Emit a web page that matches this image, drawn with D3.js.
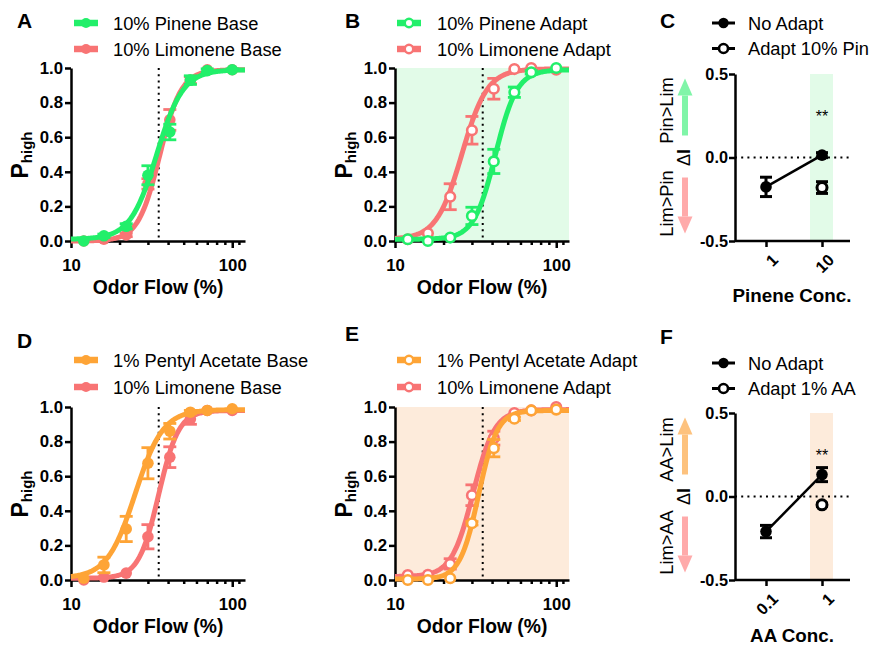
<!DOCTYPE html>
<html>
<head>
<meta charset="utf-8">
<script src="https://cdn.jsdelivr.net/npm/d3@7"></script>
<style>
    body { margin: 0; background: #fff; }
    svg { font-family: Arial, "Liberation Sans", sans-serif; }
</style>
</head>
<body>
<svg id="fig" width="869" height="645"></svg>
<script>
// odor flow steps (%) shared by all psychometric panels
const flow = [12, 16, 22, 30, 41, 55, 70, 100];

// A: baseline
const pinBase = [0.0, 0.03, 0.085, 0.38, 0.63, 0.93, 0.985, 0.99];
const pinBaseErr = [0, 0.01, 0.015, 0.055, 0.045, 0.025, 0.01, 0.005];
const limBaseA = [0.0, 0.01, 0.035, 0.33, 0.70, 0.93, 0.99, 0.99];
const limBaseAErr = [0, 0, 0.01, 0.03, 0.06, 0.02, 0, 0];

// B: after pinene adaptation
const pinAdapt = [0.01, 0.0, 0.02, 0.145, 0.46, 0.86, 0.975, 1.0];
const pinAdaptErr = [0, 0, 0, 0.05, 0.07, 0.03, 0.01, 0];
const limAdaptB = [0.01, 0.045, 0.256, 0.64, 0.88, 0.994, 1.0, 0.99];
const limAdaptBErr = [0, 0, 0.075, 0.08, 0.06, 0, 0, 0];

// D: baseline
const paBase = [0.01, 0.087, 0.295, 0.675, 0.86, 0.97, 0.98, 0.99];
const paBaseErr = [0, 0.045, 0.073, 0.09, 0.045, 0.01, 0, 0];
const limBaseD = [0.0, 0.017, 0.04, 0.25, 0.71, 0.93, 0.98, 0.98];
const limBaseDErr = [0, 0, 0, 0.07, 0.06, 0.03, 0, 0];

// E: after pentyl acetate adaptation
const paAdapt = [0.0, 0.0, 0.01, 0.328, 0.762, 0.932, 0.98, 0.985];
const paAdaptErr = [0, 0, 0, 0.01, 0.05, 0.01, 0, 0];
const limAdaptE = [0.029, 0.03, 0.093, 0.49, 0.82, 0.965, 0.98, 1.0];
const limAdaptEErr = [0, 0, 0.03, 0.06, 0.04, 0, 0, 0];

// Hill fits: [bottom, top, EC50, slope]
const fitPinBase = [0.01, 0.99, 34, 5.3];
const fitLimBaseA = [0.0, 0.99, 35.5, 6.5];
const fitPinAdapt = [0.01, 0.99, 42, 6.5];
const fitLimAdaptB = [0.01, 0.995, 26, 5.5];
const fitPaBase = [0.01, 0.985, 25, 5];
const fitLimBaseD = [0.01, 0.98, 35, 7];
const fitPaAdapt = [0.005, 0.98, 33, 7.5];
const fitLimAdaptE = [0.02, 0.985, 30.5, 6.5];

// C / F: bias index
const pinConc = ['1', '10'];
const pinNoAdapt = [-0.176, 0.014];
const pinNoAdaptErr = [0.058, 0.015];
const pinAdapted = [null, -0.18];
const pinAdaptedErr = [0, 0.035];

const aaConc = ['0.1', '1'];
const aaNoAdapt = [-0.21, 0.131];
const aaNoAdaptErr = [0.037, 0.042];
const aaAdapted = [null, -0.05];
const aaAdaptedErr = [0, 0.01];

const GREEN = '#22ef6a';
const RED = '#f87474';
const ORANGE = '#fea436';

const svg = d3.select('#fig');
svg.append('rect').attr('width', 869).attr('height', 645).attr('fill', '#fff');

function letter(txt, x, y) {
    svg.append('text')
        .attr('x', x).attr('y', y)
        .attr('font-size', 21).attr('font-weight', 'bold')
        .text(txt);
}

function legendItem(x1, cy, color, open, label, textX) {
    const g = svg.append('g');
    g.append('line')
        .attr('x1', x1).attr('x2', x1 + 24)
        .attr('y1', cy).attr('y2', cy)
        .attr('stroke', color).attr('stroke-width', 6.5);
    g.append('circle')
        .attr('cx', x1 + 12).attr('cy', cy).attr('r', open ? 4.2 : 5)
        .attr('fill', open ? '#fff' : color)
        .attr('stroke', color).attr('stroke-width', open ? 2.4 : 0);
    g.append('text')
        .attr('x', textX).attr('y', cy + 6.5)
        .attr('font-size', 18.3)
        .text(label);
}

function styleAxis(ax, size) {
    ax.select('.domain').attr('stroke', '#000').attr('stroke-width', 2.5);
    ax.selectAll('.tick line').attr('stroke', '#000').attr('stroke-width', 2.5);
    ax.selectAll('.tick text')
        .attr('font-size', size).attr('font-weight', 'bold')
        .attr('font-family', 'Arial, "Liberation Sans", sans-serif')
        .attr('fill', '#000');
}

function curvePanel(opt) {
    const g = svg.append('g');
    const x = d3.scaleLog().domain([10, 120]).range([opt.left, opt.left + 174]);
    const y = d3.scaleLinear().domain([0, 1]).range([opt.bottom, opt.bottom - 173]);

    if (opt.bg) {
        g.append('rect')
            .attr('x', x(10)).attr('y', y(1))
            .attr('width', x(120) - x(10)).attr('height', y(0) - y(1))
            .attr('fill', opt.bg);
    }

    // reference flow
    g.append('line')
        .attr('x1', x(35)).attr('x2', x(35))
        .attr('y1', y(1)).attr('y2', y(0))
        .attr('stroke', '#000').attr('stroke-width', 2)
        .attr('stroke-dasharray', '2,4.2');

    const yAxis = g.append('g')
        .attr('transform', `translate(${opt.left},0)`)
        .call(d3.axisLeft(y).tickValues([0, 0.2, 0.4, 0.6, 0.8, 1.0])
            .tickFormat(d => d.toFixed(1)).tickSize(6).tickSizeOuter(0).tickPadding(2));
    styleAxis(yAxis, 16.8);

    const xAxis = g.append('g')
        .attr('transform', `translate(0,${opt.bottom})`)
        .call(d3.axisBottom(x).tickValues([10, 100])
            .tickFormat(d3.format('d')).tickSize(7).tickSizeOuter(0).tickPadding(11));
    styleAxis(xAxis, 16.8);
    const minor = g.append('g')
        .attr('transform', `translate(0,${opt.bottom})`)
        .call(d3.axisBottom(x).tickValues([20, 30, 40, 50, 60, 70, 80, 90, 110])
            .tickFormat('').tickSize(4).tickSizeOuter(0));
    styleAxis(minor, 10);
    minor.select('.domain').remove();

    // axis titles
    g.append('text')
        .attr('x', opt.left + 87).attr('y', opt.bottom + 53)
        .attr('text-anchor', 'middle')
        .attr('font-size', 19.3).attr('font-weight', 'bold')
        .text('Odor Flow (%)');
    const yt = g.append('text')
        .attr('transform', `translate(${opt.left - 43},${opt.bottom - 86}) rotate(-90)`)
        .attr('text-anchor', 'middle')
        .attr('font-weight', 'bold');
    yt.append('tspan').attr('font-size', 23).text('P');
    yt.append('tspan').attr('font-size', 15).attr('dy', 4).text('high');

    const hill = (p, v) => p[0] + (p[1] - p[0]) / (1 + Math.pow(p[2] / v, p[3]));
    const xs = d3.range(0, 201).map(i => 10 * Math.pow(12, i / 200));
    const line = d3.line().x(d => x(d[0])).y(d => y(d[1]));

    // draw the later series first so the first one sits on top
    opt.series.slice().reverse().forEach(s => {
        g.append('path')
            .datum(xs.map(v => [v, hill(s.fit, v)]))
            .attr('d', line)
            .attr('fill', 'none')
            .attr('stroke', s.color).attr('stroke-width', 5);

        const pts = flow.map((f, i) => ({ f, v: s.vals[i], e: s.errs[i] }));
        const eb = g.append('g').attr('stroke', s.color).attr('stroke-width', 2.8);
        pts.filter(d => d.e > 0).forEach(d => {
            eb.append('line')
                .attr('x1', x(d.f)).attr('x2', x(d.f))
                .attr('y1', y(d.v - d.e)).attr('y2', y(d.v + d.e));
            [d.v - d.e, d.v + d.e].forEach(v => {
                eb.append('line')
                    .attr('x1', x(d.f) - 6.5).attr('x2', x(d.f) + 6.5)
                    .attr('y1', y(v)).attr('y2', y(v));
            });
        });

        g.append('g').selectAll('circle')
            .data(pts)
            .enter().append('circle')
            .attr('cx', d => x(d.f)).attr('cy', d => y(d.v))
            .attr('r', s.open ? 4.8 : 5.8)
            .attr('fill', s.open ? '#fff' : s.color)
            .attr('stroke', s.color).attr('stroke-width', s.open ? 2.6 : 0);
    });
}

function arrow(x, tail, tip, color) {
    const dir = tip < tail ? -1 : 1;
    const headBase = tip - dir * 17;
    svg.append('line')
        .attr('x1', x).attr('x2', x)
        .attr('y1', tail).attr('y2', headBase)
        .attr('stroke', color).attr('stroke-width', 6);
    svg.append('path')
        .attr('d', `M${x - 7.5},${headBase} L${x + 7.5},${headBase} L${x},${tip} Z`)
        .attr('fill', color);
}

function deltaPanel(opt) {
    const g = svg.append('g');
    const left = 735, right = 850;
    const x = d3.scalePoint().domain(opt.cats).range([766, 822]);
    const y = d3.scaleLinear().domain([-0.5, 0.5]).range([opt.bottom, opt.bottom - 167]);

    g.append('rect')
        .attr('x', x(opt.cats[1]) - 12).attr('y', y(0.5))
        .attr('width', 23).attr('height', y(-0.5) - y(0.5))
        .attr('fill', opt.bg);

    g.append('line')
        .attr('x1', left).attr('x2', right)
        .attr('y1', y(0)).attr('y2', y(0))
        .attr('stroke', '#000').attr('stroke-width', 2)
        .attr('stroke-dasharray', '2,4.2');

    const yAxis = g.append('g')
        .attr('transform', `translate(${left},0)`)
        .call(d3.axisLeft(y).tickValues([-0.5, 0, 0.5])
            .tickFormat(d => d.toFixed(1)).tickSize(6).tickSizeOuter(0).tickPadding(1));
    styleAxis(yAxis, 16.3);

    const xAxis = g.append('g')
        .attr('transform', `translate(0,${opt.bottom})`)
        .call(d3.axisBottom(x).tickSize(6).tickSizeOuter(0).tickFormat(''));
    styleAxis(xAxis, 16);
    xAxis.select('.domain').attr('d', `M${left},0H${right}`);

    opt.cats.forEach(c => {
        g.append('text')
            .attr('transform', `translate(${x(c) + 5},${opt.bottom + 12}) rotate(-45)`)
            .attr('text-anchor', 'end')
            .attr('dy', '0.7em')
            .attr('font-size', 16.3).attr('font-weight', 'bold')
            .text(c);
    });

    g.append('text')
        .attr('x', 792).attr('y', opt.bottom + opt.titleGap)
        .attr('text-anchor', 'middle')
        .attr('font-size', 18.8).attr('font-weight', 'bold')
        .text(opt.xTitle);

    // significance
    g.append('text')
        .attr('x', x(opt.cats[1])).attr('y', y(0.5) + 48)
        .attr('text-anchor', 'middle')
        .attr('font-size', 16)
        .text('**');

    // no-adapt line
    const pts = opt.cats.map((c, i) => ({ c, v: opt.noAdapt[i], e: opt.noAdaptErr[i] }));
    g.append('path')
        .datum(pts)
        .attr('d', d3.line().x(d => x(d.c)).y(d => y(d.v)))
        .attr('fill', 'none').attr('stroke', '#000').attr('stroke-width', 2.5);

    const eb = g.append('g').attr('stroke', '#000').attr('stroke-width', 3);
    const bars = pts.concat(opt.cats.map((c, i) => ({ c, v: opt.adapt[i], e: opt.adaptErr[i] }))
        .filter(d => d.v !== null));
    bars.forEach(d => {
        eb.append('line')
            .attr('x1', x(d.c)).attr('x2', x(d.c))
            .attr('y1', y(d.v - d.e)).attr('y2', y(d.v + d.e));
        [d.v - d.e, d.v + d.e].forEach(v => {
            eb.append('line')
                .attr('x1', x(d.c) - 6).attr('x2', x(d.c) + 6)
                .attr('y1', y(v)).attr('y2', y(v));
        });
    });

    g.append('g').selectAll('circle')
        .data(pts)
        .enter().append('circle')
        .attr('cx', d => x(d.c)).attr('cy', d => y(d.v))
        .attr('r', 5.8).attr('fill', '#000');

    g.append('g').selectAll('circle')
        .data(opt.cats.map((c, i) => ({ c, v: opt.adapt[i] })).filter(d => d.v !== null))
        .enter().append('circle')
        .attr('cx', d => x(d.c)).attr('cy', d => y(d.v))
        .attr('r', 5).attr('fill', '#fff')
        .attr('stroke', '#000').attr('stroke-width', 3);

    // direction labels
    const mid = y(0);
    svg.append('text')
        .attr('transform', `translate(${left - 45},${mid}) rotate(-90)`)
        .attr('text-anchor', 'middle')
        .attr('font-size', 18)
        .html('Δ<tspan font-weight="bold">I</tspan>');
    svg.append('text')
        .attr('transform', `translate(${left - 62},${mid - 47}) rotate(-90)`)
        .attr('text-anchor', 'middle')
        .attr('font-size', 18.3)
        .text(opt.upLabel);
    svg.append('text')
        .attr('transform', `translate(${left - 62},${mid + 46}) rotate(-90)`)
        .attr('text-anchor', 'middle')
        .attr('font-size', 18.3)
        .text(opt.downLabel);
    arrow(left - 50, mid - 22, mid - 79, opt.upColor);
    arrow(left - 50, mid + 20, mid + 76, '#ffaaaa');

    // legend
    [[opt.legend[0], false], [opt.legend[1], true]].forEach(([label, open], i) => {
        const cy = opt.legendY + i * 25.5;
        svg.append('line')
            .attr('x1', 712).attr('x2', 735)
            .attr('y1', cy).attr('y2', cy)
            .attr('stroke', '#000').attr('stroke-width', 3);
        svg.append('circle')
            .attr('cx', 723.5).attr('cy', cy).attr('r', open ? 4.5 : 5.2)
            .attr('fill', open ? '#fff' : '#000')
            .attr('stroke', '#000').attr('stroke-width', open ? 2.6 : 0);
        svg.append('text')
            .attr('x', 748).attr('y', cy + 6.5)
            .attr('font-size', 18.3)
            .text(label);
    });
}

// ---- top row ----
letter('A', 17, 28);
legendItem(74, 23, GREEN, false, '10% Pinene Base', 113);
legendItem(74, 49, RED, false, '10% Limonene Base', 113);
curvePanel({
    left: 71, bottom: 241,
    series: [
        { vals: pinBase, errs: pinBaseErr, fit: fitPinBase, color: GREEN, open: false },
        { vals: limBaseA, errs: limBaseAErr, fit: fitLimBaseA, color: RED, open: false },
    ],
});

letter('B', 345, 28);
legendItem(397, 23, GREEN, true, '10% Pinene Adapt', 437);
legendItem(397, 49, RED, true, '10% Limonene Adapt', 437);
curvePanel({
    left: 395, bottom: 241, bg: '#e2fbe8',
    series: [
        { vals: pinAdapt, errs: pinAdaptErr, fit: fitPinAdapt, color: GREEN, open: true },
        { vals: limAdaptB, errs: limAdaptBErr, fit: fitLimAdaptB, color: RED, open: true },
    ],
});

letter('C', 660, 28);
deltaPanel({
    bottom: 241, cats: pinConc,
    noAdapt: pinNoAdapt, noAdaptErr: pinNoAdaptErr,
    adapt: pinAdapted, adaptErr: pinAdaptedErr,
    bg: '#e2fbe8', upColor: '#80f5a8',
    upLabel: 'Pin>Lim', downLabel: 'Lim>Pin',
    xTitle: 'Pinene Conc.', titleGap: 61,
    legend: ['No Adapt', 'Adapt 10% Pin'], legendY: 23,
});

// ---- bottom row ----
letter('D', 17, 348);
legendItem(74, 360, ORANGE, false, '1% Pentyl Acetate Base', 113);
legendItem(74, 387, RED, false, '10% Limonene Base', 113);
curvePanel({
    left: 71, bottom: 580,
    series: [
        { vals: paBase, errs: paBaseErr, fit: fitPaBase, color: ORANGE, open: false },
        { vals: limBaseD, errs: limBaseDErr, fit: fitLimBaseD, color: RED, open: false },
    ],
});

letter('E', 345, 341);
legendItem(397, 360, ORANGE, true, '1% Pentyl Acetate Adapt', 437);
legendItem(397, 387, RED, true, '10% Limonene Adapt', 437);
curvePanel({
    left: 395, bottom: 580, bg: '#fdebdb',
    series: [
        { vals: paAdapt, errs: paAdaptErr, fit: fitPaAdapt, color: ORANGE, open: true },
        { vals: limAdaptE, errs: limAdaptEErr, fit: fitLimAdaptE, color: RED, open: true },
    ],
});

letter('F', 660, 344);
deltaPanel({
    bottom: 580, cats: aaConc,
    noAdapt: aaNoAdapt, noAdaptErr: aaNoAdaptErr,
    adapt: aaAdapted, adaptErr: aaAdaptedErr,
    bg: '#fdebdb', upColor: '#fdc27e',
    upLabel: 'AA>Lim', downLabel: 'Lim>AA',
    xTitle: 'AA Conc.', titleGap: 62,
    legend: ['No Adapt', 'Adapt 1% AA'], legendY: 363,
});
</script>
</body>
</html>
